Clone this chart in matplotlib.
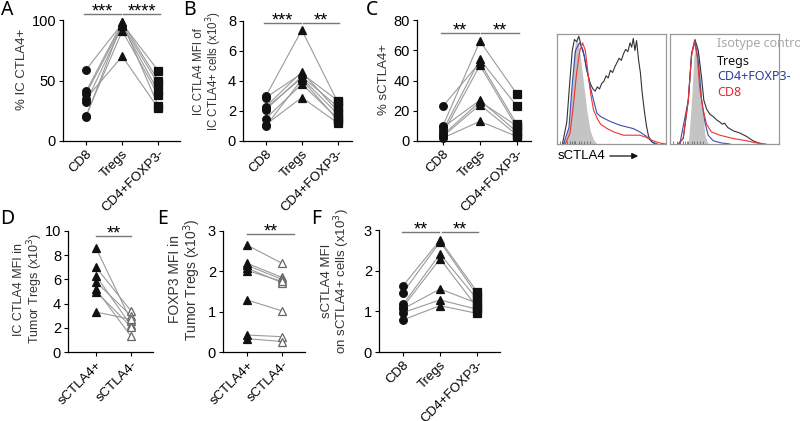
import numpy as np
import matplotlib
matplotlib.use('Agg')
import matplotlib.pyplot as plt
import matplotlib.transforms as mtransforms

plt.rcParams['font.family'] = ['Liberation Sans', 'DejaVu Sans']

# ---- data ----
cats3 = ['CD8', 'Tregs', 'CD4+FOXP3-']
cats2 = ['sCTLA4+', 'sCTLA4-']

a_cd8 = [59, 41, 39, 35, 32, 21, 20]
a_treg = [97, 98, 96, 70, 95, 91, 98]
a_cd4 = [58, 50, 47, 27, 41, 38, 29]

b_cd8 = [3.0, 2.9, 2.3, 2.1, 2.2, 1.5, 1.1, 1.0]
b_treg = [7.4, 4.5, 4.6, 4.3, 4.2, 3.8, 2.9, 4.1]
b_cd4 = [2.6, 2.7, 2.0, 2.3, 1.8, 1.5, 1.2, 1.4]

c_cd8 = [10, 7, 23, 5, 9, 3, 2, 4]
c_treg = [66, 54, 52, 50, 27, 24, 13, 26]
c_cd4 = [31, 23, 11, 9, 6, 4, 3, 10]

d_pos = [8.6, 7.0, 6.3, 5.8, 5.2, 5.0, 3.3]
d_neg = [2.6, 3.4, 2.2, 3.0, 1.3, 2.1, 2.7]

e_pos = [2.65, 2.2, 2.15, 2.08, 2.02, 1.29, 0.42, 0.33]
e_neg = [2.2, 1.85, 1.8, 1.72, 1.75, 1.02, 0.38, 0.26]

f_cd8 = [1.63, 1.46, 1.17, 1.11, 1.06, 0.97, 0.79]
f_treg = [2.75, 2.71, 2.41, 2.29, 1.55, 1.28, 1.14]
f_cd4 = [1.48, 1.40, 1.30, 1.10, 1.20, 1.05, 0.95]

# histogram traces (x, y in % of box)
hl_iso_x = [6, 10.7, 13.7, 15, 16.8, 18.3, 19.8, 21.3, 24.4, 27.4, 30.5, 33.5, 36.6]
hl_iso_y = [0, 15, 55, 80, 92, 95, 90, 80, 55, 30, 12, 4, 0]
hl_cd8_x = [7.6, 12, 15, 18, 21, 23.5, 26, 29, 31, 33.5, 37, 40, 46, 52, 61, 76, 82, 88, 94, 100]
hl_cd8_y = [0, 10, 35, 65, 85, 92, 85, 60, 45, 31, 23, 18, 14, 11, 8, 8, 6, 3, 1, 0]
hl_cd4_x = [6, 11, 14, 17, 20.7, 24, 27, 30.5, 34, 36.6, 40, 45.7, 50, 58, 70, 76, 82, 87, 92]
hl_cd4_y = [0, 15, 55, 85, 92, 85, 70, 52, 38, 28, 25, 22, 20, 17, 14, 11, 7, 2, 0]
hl_treg_x = [5, 9, 12, 14, 16, 18, 20, 22, 25, 27, 30.5, 33, 35, 37, 39, 41, 43, 45, 47, 49, 51,
             53, 55, 57, 59, 61, 63, 65, 67, 68.5, 70, 71.5, 73, 75, 76.5, 78, 80, 82, 84, 87, 90]
hl_treg_y = [0, 20, 60, 85, 95, 93, 98, 90, 80, 68, 55, 50, 48, 52, 50, 55, 57, 62, 60, 67, 65,
             70, 74, 78, 76, 82, 86, 84, 92, 88, 96, 85, 94, 75, 65, 48, 31, 17, 7, 2, 0]

hr_iso_x = [16.8, 19.8, 22, 24.4, 26.8, 29, 32, 35]
hr_iso_y = [0, 40, 80, 92, 80, 40, 8, 0]
hr_cd8_x = [7.6, 12, 16.8, 19.8, 22.3, 25, 27.4, 30.5, 33.5, 38, 45.7, 58, 70, 79, 88]
hr_cd8_y = [0, 5, 40, 80, 93, 80, 50, 31, 18, 11, 8, 5, 3, 1, 0]
hr_cd4_x = [9, 16.8, 19.8, 22.9, 25.9, 29, 32, 35, 39.6, 47, 55]
hr_cd4_y = [0, 40, 82, 93, 75, 40, 20, 8, 3, 1, 0]
hr_treg_x = [7.6, 12.2, 16.8, 19.8, 22.9, 25.9, 29, 31, 33.5, 36.6, 39.6, 42.7, 45.7, 48, 50,
             53, 58, 64, 70, 76, 81, 85]
hr_treg_y = [0, 5, 40, 82, 95, 85, 60, 40, 32, 27, 25, 22, 20, 18, 19, 15, 12, 10, 7, 3, 1, 0]

hist_ticks = [3, 6, 9, 11.6, 13.7, 15.2, 16.8, 19.8, 22, 24.4, 27.4, 30.5]

legend_labels = ['Isotype control', 'Tregs', 'CD4+FOXP3-', 'CD8']
legend_colors = ['#a8a8a8', '#111111', '#2b3d9c', '#e8262b']

W, H = 800, 421
fig = plt.figure(figsize=(8, 4.21), dpi=100)


def box(l, t, r, b):
    return [l / W, 1 - b / H, (r - l) / W, (b - t) / H]


LINE = '#9a9a9a'


def paired(ax, groups, labels, markers, faces, xlim, ylim, yticks, ylabel, lab_xy, lab_fs):
    n = len(groups[0])
    xs = np.arange(len(groups))
    for i in range(n):
        ax.plot(xs, [g[i] for g in groups], color=LINE, lw=0.8, zorder=1)
    for j, g in enumerate(groups):
        ax.plot([j] * n, g, ls='none', marker=markers[j], mfc=faces[j],
                mec='#111' if faces[j] != 'white' else '#666',
                mew=0.9, ms=5.5, zorder=3, clip_on=False)
    ax.set_xlim(*xlim)
    ax.set_ylim(*ylim)
    ax.set_yticks(yticks)
    ax.set_xticks(xs)
    ax.set_xticklabels(labels, rotation=45, ha='right', rotation_mode='anchor', fontsize=9.5)
    ax.tick_params(axis='y', labelsize=10.5)
    ax.tick_params(direction='out', length=3, width=0.8, pad=2)
    for s in ['top', 'right']:
        ax.spines[s].set_visible(False)
    for s in ['left', 'bottom']:
        ax.spines[s].set_linewidth(0.9)
    ax.set_ylabel(ylabel, fontsize=lab_fs, color='#333', linespacing=1.0)
    ax.yaxis.set_label_coords(*lab_xy)


def sig(ax, x0, x1, y, text):
    ax.plot([x0, x1], [y, y], color='#777', lw=1, clip_on=False)
    off = mtransforms.offset_copy(ax.transData, fig=fig, x=0, y=1.5, units='points')
    ax.text((x0 + x1) / 2, y, text, ha='center', va='center', fontsize=13,
            transform=off, clip_on=False)


mk3 = ['o', '^', 's']
fc3 = ['#111', '#111', '#111']

# A
ax = fig.add_axes(box(63, 20, 180, 141))
paired(ax, [a_cd8, a_treg, a_cd4], cats3, mk3, fc3, (-0.64, 2.6), (0, 100), [0, 50, 100],
       '% IC CTLA4+', (-0.30, 0.59), 9.5)
sig(ax, -0.05, 0.97, 105, '***')
sig(ax, 1.03, 2.05, 105, '****')

# B
ax = fig.add_axes(box(243, 21, 352, 141))
paired(ax, [b_cd8, b_treg, b_cd4], cats3, mk3, fc3, (-0.64, 2.4), (0, 8), [0, 2, 4, 6, 8],
       'IC CTLA4 MFI of\nIC CTLA4+ cells (x10$^3$)', (-0.17, 0.58), 8.3)
sig(ax, -0.05, 0.97, 7.87, '***')
sig(ax, 1.03, 2.05, 7.87, '**')

# C
ax = fig.add_axes(box(417, 20, 531, 141))
paired(ax, [c_cd8, c_treg, c_cd4], cats3, mk3, fc3, (-0.7, 2.38), (0, 80), [0, 20, 40, 60, 80],
       '% sCTLA4+', (-0.24, 0.51), 9.5)
sig(ax, -0.05, 0.97, 71.5, '**')
sig(ax, 1.03, 2.05, 71.5, '**')

# D
ax = fig.add_axes(box(68, 231, 153, 352))
paired(ax, [d_pos, d_neg], cats2, ['^', '^'], ['#111', 'white'], (-0.8, 1.63), (0, 10),
       [0, 2, 4, 6, 8, 10], 'IC CTLA4 MFI in\nTumor Tregs (x10$^3$)', (-0.27, 0.52), 9)
sig(ax, 0, 1, 9.6, '**')

# E
ax = fig.add_axes(box(223, 231, 305, 352))
paired(ax, [e_pos, e_neg], cats2, ['^', '^'], ['#111', 'white'], (-0.69, 1.66), (0, 3),
       [0, 1, 2, 3], 'FOXP3 MFI in\nTumor Tregs (x10$^3$)', (-0.24, 0.6), 10)
sig(ax, 0, 1.35, 2.93, '**')

# F
ax = fig.add_axes(box(379, 230, 500, 352))
paired(ax, [f_cd8, f_treg, f_cd4], cats3, mk3, fc3, (-0.65, 2.62), (0, 3), [0, 1, 2, 3],
       'sCTLA4 MFI\non sCTLA4+ cells (x10$^3$)', (-0.22, 0.58), 9.5)
sig(ax, -0.03, 0.97, 2.95, '**')
sig(ax, 1.05, 2.02, 2.95, '**')

# histograms
for bx, tr in [((557, 34, 666, 144), (hl_iso_x, hl_iso_y, hl_treg_x, hl_treg_y, hl_cd4_x, hl_cd4_y, hl_cd8_x, hl_cd8_y)),
               ((670, 34, 779, 144), (hr_iso_x, hr_iso_y, hr_treg_x, hr_treg_y, hr_cd4_x, hr_cd4_y, hr_cd8_x, hr_cd8_y))]:
    ax = fig.add_axes(box(*bx))
    ax.fill_between(tr[0], tr[1], color='#c4c4c4', lw=0)
    ax.plot(tr[2], tr[3], color='#333', lw=0.8)
    ax.plot(tr[4], tr[5], color='#3a4fb0', lw=0.8)
    ax.plot(tr[6], tr[7], color='#ee3333', lw=0.8)
    ax.set_xlim(0, 100)
    ax.set_ylim(0, 100)
    ax.set_yticks([])
    ax.set_xticks(hist_ticks)
    ax.set_xticklabels([])
    ax.tick_params(axis='x', direction='in', length=2, width=0.5, color='#555')
    for s in ax.spines.values():
        s.set_color('#999')
        s.set_linewidth(0.9)

for lab, col, y in zip(legend_labels, legend_colors, [43, 61, 77, 93]):
    fig.text(717 / W, 1 - y / H, lab, color=col, fontsize=9, va='center', ha='left',
             family=['Noto Sans', 'DejaVu Sans'])

fig.text(558 / W, 1 - 156 / H, 'sCTLA4', fontsize=9.5, va='center', ha='left')
fig.add_artist(matplotlib.patches.FancyArrowPatch((607 / W, 1 - 156 / H), (641 / W, 1 - 156 / H),
                                                  transform=fig.transFigure, arrowstyle='-|>',
                                                  mutation_scale=9, color='#111', lw=0.9))

for lab, x, y in [('A', 1, 10), ('B', 183, 10), ('C', 366, 10), ('D', 0, 219), ('E', 157, 219), ('F', 311, 219)]:
    fig.text(x / W, 1 - y / H, lab, fontsize=14, va='center', ha='left',
             family=['Noto Sans', 'DejaVu Sans'])

fig.savefig('out.png', dpi=100)
